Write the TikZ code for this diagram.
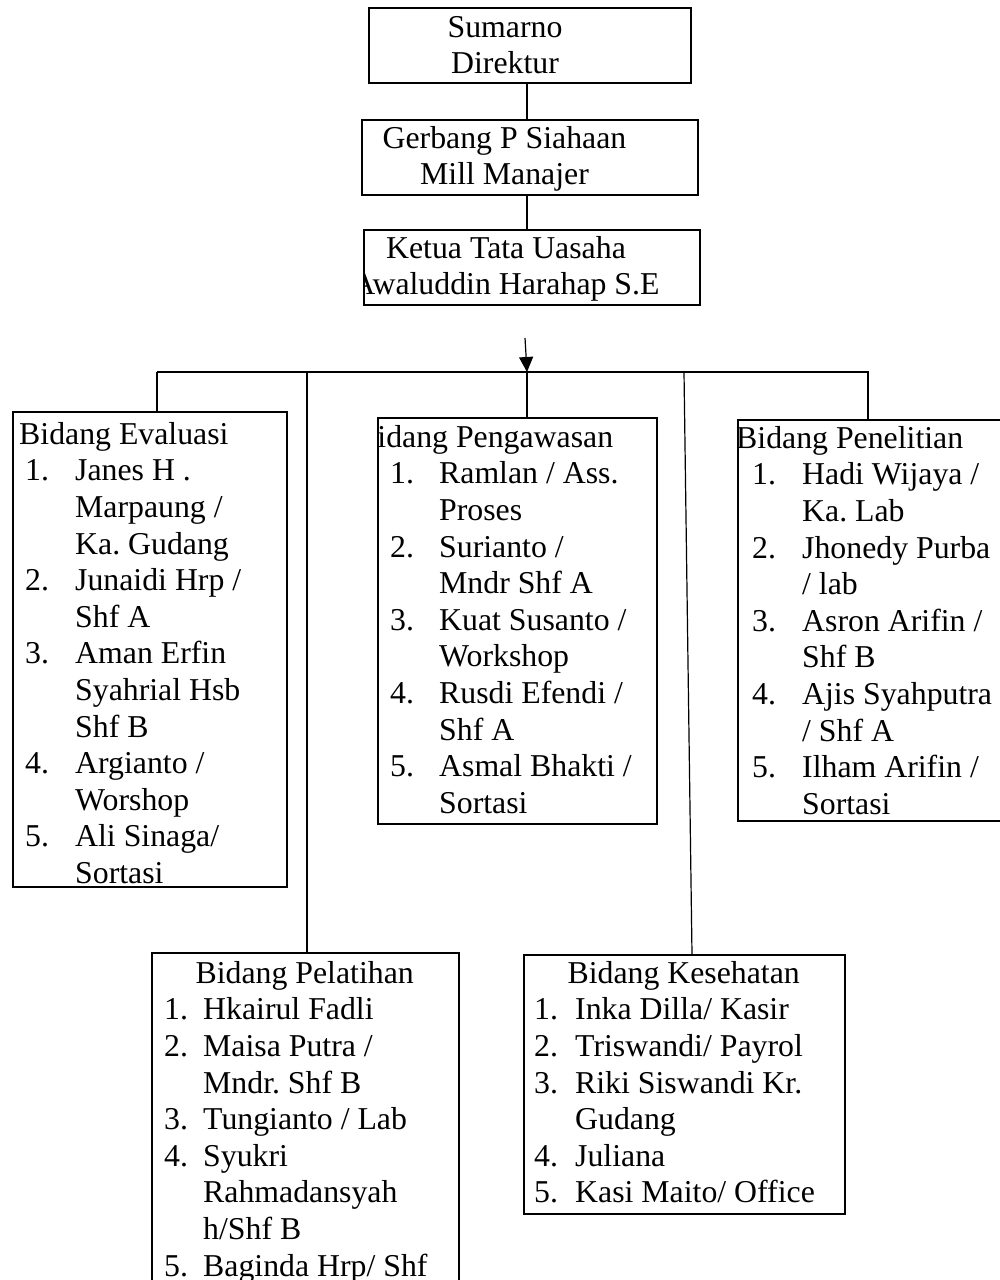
\documentclass[tikz,border=0pt]{standalone}
\usepackage{fontspec}
\setmainfont{Liberation Serif}
\usetikzlibrary{arrows.meta}
\newcommand{\li}[3]{\hspace*{#1}\makebox[#2][l]{#3}}
\frenchspacing
\begin{document}
\frenchspacing
\begin{tikzpicture}[x=1pt,y=-1pt,
  box/.style={draw, line width=1.6pt, inner sep=0pt, anchor=north west},
  conn/.style={line width=1.2pt},
  ltxt/.style={font=\fontsize{31.8}{36.6}\selectfont\frenchspacing, inner sep=0pt, align=left, anchor=north west},
  ctxt/.style={font=\fontsize{31.8}{36.6}\selectfont\frenchspacing, inner sep=0pt, align=center, anchor=north}]
\useasboundingbox (0,0) rectangle (1000,1280);
\clip (0,0) rectangle (1000,1280);
% boxes
\node[box, minimum width=322, minimum height=75] (dir) at (368,7) {};
\node[box, minimum width=336, minimum height=75] (mgr) at (361,119) {};
\node[box, minimum width=336, minimum height=75] (kt) at (363,229) {};
\node[box, minimum width=274, minimum height=475] (eva) at (12,411) {};
\node[box, minimum width=279, minimum height=406] (peng) at (377,417) {};
\node[box, minimum width=280, minimum height=401] (pen) at (737,419) {};
\node[box, minimum width=307, minimum height=360] (pel) at (151,952) {};
\node[box, minimum width=321, minimum height=259] (kes) at (523,954) {};
% texts
\node[ctxt] (dirT) at (505,11.4) {\strut Sumarno\\Direktur};
\node[ctxt] (mgrT) at (504.5,122.4) {\strut Gerbang P Siahaan\\Mill Manajer};
\begin{scope}
\clip (kt.north west) rectangle (kt.south east);
\node[ctxt] (ktT) at (506,232.4) {\strut Ketua Tata Uasaha\\Awaluddin Harahap S.E};
\end{scope}
\node[ltxt] (evaT) at (19,418.4) {\strut Bidang Evaluasi\\
\li{6pt}{50pt}{1.}Janes H .\\
\hspace*{56pt}Marpaung /\\
\hspace*{56pt}Ka. Gudang\\
\li{6pt}{50pt}{2.}Junaidi Hrp /\\
\hspace*{56pt}Shf A\\
\li{6pt}{50pt}{3.}Aman Erfin\\
\hspace*{56pt}Syahrial Hsb\\
\hspace*{56pt}Shf B\\
\li{6pt}{50pt}{4.}Argianto /\\
\hspace*{56pt}Worshop\\
\li{6pt}{50pt}{5.}Ali Sinaga/\\
\hspace*{56pt}Sortasi};
\begin{scope}
\clip (peng.north west) rectangle (peng.south east);
\node[ltxt] (pengT) at (356,421.4) {\strut Bidang Pengawasan\\
\li{34pt}{49pt}{1.}Ramlan / Ass.\\
\hspace*{83pt}Proses\\
\li{34pt}{49pt}{2.}Surianto /\\
\hspace*{83pt}Mndr Shf A\\
\li{34pt}{49pt}{3.}Kuat Susanto /\\
\hspace*{83pt}Workshop\\
\li{34pt}{49pt}{4.}Rusdi Efendi /\\
\hspace*{83pt}Shf A\\
\li{34pt}{49pt}{5.}Asmal Bhakti /\\
\hspace*{83pt}Sortasi};
\end{scope}
\node[ltxt] (penT) at (736,422.4) {\strut Bidang Penelitian\\
\li{16pt}{50pt}{1.}Hadi Wijaya /\\
\hspace*{66pt}Ka. Lab\\
\li{16pt}{50pt}{2.}Jhonedy Purba\\
\hspace*{66pt}/ lab\\
\li{16pt}{50pt}{3.}Asron Arifin /\\
\hspace*{66pt}Shf B\\
\li{16pt}{50pt}{4.}Ajis Syahputra\\
\hspace*{66pt}/ Shf A\\
\li{16pt}{50pt}{5.}Ilham Arifin /\\
\hspace*{66pt}Sortasi};
\node[ltxt] (pelT) at (155,957.4) {\strut\makebox[299pt][c]{Bidang Pelatihan}\\
\li{9pt}{39pt}{1.}Hkairul Fadli\\
\li{9pt}{39pt}{2.}Maisa Putra /\\
\hspace*{48pt}Mndr. Shf B\\
\li{9pt}{39pt}{3.}Tungianto / Lab\\
\li{9pt}{39pt}{4.}Syukri\\
\hspace*{48pt}Rahmadansyah\\
\hspace*{48pt}h/Shf B\\
\li{9pt}{39pt}{5.}Baginda Hrp/ Shf};
\node[ltxt] (kesT) at (527,957.4) {\strut\makebox[313pt][c]{Bidang Kesehatan}\\
\li{7pt}{41pt}{1.}Inka Dilla/ Kasir\\
\li{7pt}{41pt}{2.}Triswandi/ Payrol\\
\li{7pt}{41pt}{3.}Riki Siswandi Kr.\\
\hspace*{48pt}Gudang\\
\li{7pt}{41pt}{4.}Juliana\\
\li{7pt}{41pt}{5.}Kasi Maito/ Office};
% connectors
\coordinate (cx) at (527,0);
\draw[conn] (dir.south -| cx) -- (mgr.north -| cx);
\draw[conn] (mgr.south -| cx) -- (kt.north -| cx);
\coordinate (arrS) at (525,338);
\coordinate (arrE) at (527,372);
\draw[conn, -{Triangle[length=15pt,width=14pt]}] (arrS) -- (arrE);
\coordinate (barL) at (157,372);
\coordinate (barR) at (869,372);
\draw[conn] (barL) -- (barR);
\coordinate (thA) at (380,372);
\coordinate (thB) at (593,372);
\draw[line width=2pt] (thA) -- (thB);
\draw[conn] (barL) -- (barL |- eva.north);
\coordinate (b2) at (307,372);
\draw[conn] (b2) -- (b2 |- pel.north);
\draw[conn] (arrE) -- (arrE |- peng.north);
\coordinate (b4) at (684,372);
\coordinate (b4e) at (692,0);
\draw[conn] (b4) -- (kes.north -| b4e);
\coordinate (b5) at (868,372);
\draw[conn] (b5) -- (b5 |- pen.north);
\end{tikzpicture}
\end{document}
